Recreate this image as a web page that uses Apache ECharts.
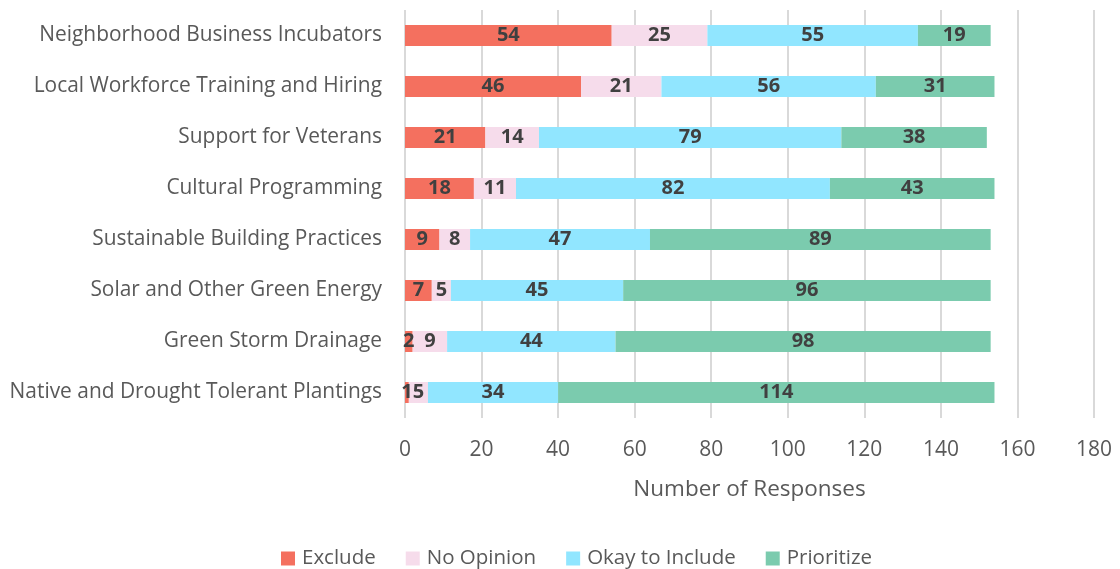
<!DOCTYPE html>
<html><head><meta charset="utf-8">
<script src="https://cdn.jsdelivr.net/npm/echarts@6/dist/echarts.min.js"></script>
<style>html,body{margin:0;padding:0;background:#fff}#c{width:1120px;height:569px}</style>
</head><body><div id="c"></div>
<script>
var categories = ["Neighborhood Business Incubators","Local Workforce Training and Hiring","Support for Veterans","Cultural Programming","Sustainable Building Practices","Solar and Other Green Energy","Green Storm Drainage","Native and Drought Tolerant Plantings"];
var exclude = [54,46,21,18,9,7,2,1];
var noOpinion = [25,21,14,11,8,5,9,5];
var okay = [55,56,79,82,47,45,44,34];
var prioritize = [19,31,38,43,89,96,98,114];
var seriesNames = ["Exclude","No Opinion","Okay to Include","Prioritize"];
var colors = ["#F4705F","#F6DCEB","#91E6FF","#7BCBAE"];
var font = "Open Sans";
function mk(name, data, color){
  return {name:name,type:'bar',stack:'t',data:data,barWidth:21,itemStyle:{color:color},
    label:{show:true,position:'inside',color:'#404040',fontWeight:'bold',fontSize:20,fontFamily:font}};
}
var chart = echarts.init(document.getElementById('c'));
chart.setOption({
  animation:false,
  grid:{left:405,right:26,top:10,bottom:151},
  xAxis:{type:'value',min:0,max:180,interval:20,
    axisLine:{show:false},axisTick:{show:false},
    splitLine:{lineStyle:{color:'#d9d9d9',width:2}},
    axisLabel:{color:'#595959',fontSize:21,fontFamily:font,margin:22},
    name:'Number of Responses',nameLocation:'middle',nameGap:60,
    nameTextStyle:{color:'#595959',fontSize:22.5,fontFamily:font}},
  yAxis:{type:'category',data:categories,inverse:true,
    axisLine:{show:false},axisTick:{show:false},
    axisLabel:{color:'#595959',fontSize:20.9,fontFamily:font,margin:23}},
  legend:{bottom:-5,left:276,itemWidth:14,itemHeight:14,itemGap:30,icon:'rect',
    textStyle:{color:'#595959',fontSize:20.5,fontFamily:font,padding:[0,0,0,2]}},
  series:[mk(seriesNames[0],exclude,colors[0]),mk(seriesNames[1],noOpinion,colors[1]),mk(seriesNames[2],okay,colors[2]),mk(seriesNames[3],prioritize,colors[3])]
});
</script></body></html>
